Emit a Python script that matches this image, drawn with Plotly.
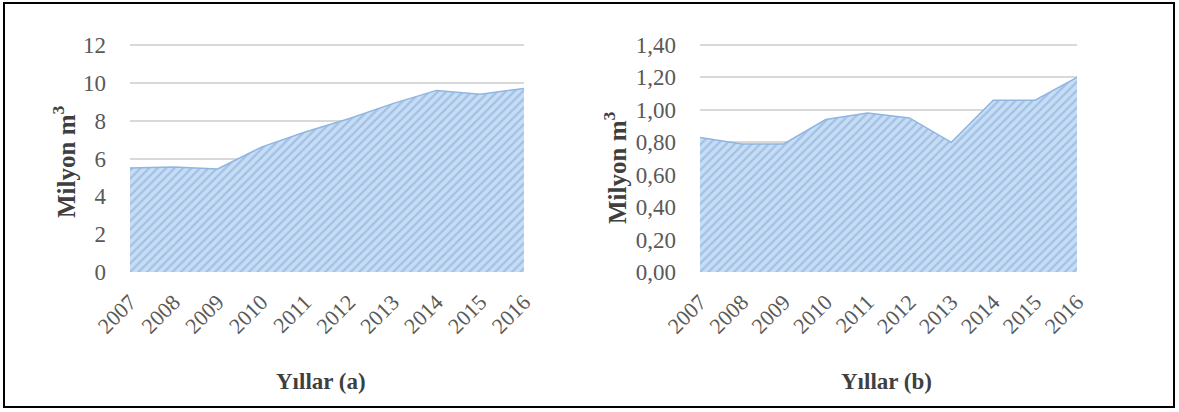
import plotly.graph_objects as go

years = [2007, 2008, 2009, 2010, 2011, 2012, 2013, 2014, 2015, 2016]
values_a = [5.5, 5.55, 5.45, 6.6, 7.4, 8.1, 8.9, 9.6, 9.4, 9.7]
values_b = [0.83, 0.79, 0.79, 0.94, 0.98, 0.95, 0.80, 1.06, 1.06, 1.20]
ticks_a = [0, 2, 4, 6, 8, 10, 12]
ticks_b = [0.0, 0.2, 0.4, 0.6, 0.8, 1.0, 1.2, 1.4]
ticktext_b = ["0,00", "0,20", "0,40", "0,60", "0,80", "1,00", "1,20", "1,40"]
xtitle_a = "Yıllar (a)"
xtitle_b = "Yıllar (b)"
ytitle = "Milyon m<sup>3</sup>"

W, H = 1179, 412
SERIF = "Liberation Serif, Times New Roman, serif"
TICKC = "#595959"
TITLEC = "#3f3f3f"

fill_pattern = dict(shape="/", fgcolor="#78a6da", bgcolor="#c8ddf4", size=6, solidity=0.38)

fig = go.Figure()
fig.add_trace(go.Scatter(x=years, y=values_a, mode="lines", fill="tozeroy",
                         line=dict(color="#8fb5e2", width=1.5),
                         fillcolor="#a8c8ec", fillpattern=fill_pattern,
                         xaxis="x", yaxis="y", showlegend=False, hoverinfo="skip"))
fig.add_trace(go.Scatter(x=years, y=values_b, mode="lines", fill="tozeroy",
                         line=dict(color="#8fb5e2", width=1.5),
                         fillcolor="#a8c8ec", fillpattern=fill_pattern,
                         xaxis="x2", yaxis="y2", showlegend=False, hoverinfo="skip"))

# plot area: value 0 at y=272 px, top tick at y=45 px; extend range a little so top grid shows
pad = 2 / 227.0
ydom = [1 - 272 / H, 1 - (45 - 2) / H]
common_x = dict(tickmode="array", tickvals=years, ticktext=[str(y) for y in years],
                tickangle=-45, tickfont=dict(family=SERIF, size=22, color=TICKC),
                showgrid=False, zeroline=False, showline=False, ticks="",
                range=[2007, 2016], fixedrange=True, automargin=False, ticklabelstandoff=12)
common_y = dict(showgrid=True, gridcolor="#d9d9d9", gridwidth=1.5, zeroline=False,
                showline=False, ticks="", tickfont=dict(family=SERIF, size=23, color=TICKC),
                domain=ydom, fixedrange=True, automargin=False, ticklabelstandoff=23)

ann_common = dict(xref="paper", yref="paper", showarrow=False, xanchor="center", yanchor="middle")

fig.update_layout(
    width=W, height=H,
    margin=dict(l=0, r=0, t=0, b=0, autoexpand=False),
    paper_bgcolor="white", plot_bgcolor="white",
    xaxis=dict(domain=[130 / W, 524 / W], anchor="y", **common_x),
    yaxis=dict(anchor="x", range=[0, 12 * (1 + pad)], tickvals=ticks_a,
               ticktext=[str(t) for t in ticks_a], **common_y),
    xaxis2=dict(domain=[700 / W, 1077 / W], anchor="y2", **common_x),
    yaxis2=dict(anchor="x2", range=[0, 1.4 * (1 + pad)], tickvals=ticks_b, ticktext=ticktext_b,
                **common_y),
    shapes=[dict(type="rect", xref="paper", yref="paper",
                 x0=4 / W, x1=1174 / W, y0=1 - 407 / H, y1=1 - 3 / H,
                 line=dict(color="black", width=2), fillcolor="rgba(0,0,0,0)")],
    annotations=[
        dict(text="<b>" + xtitle_a + "</b>", x=321 / W, y=1 - 381 / H,
             font=dict(family=SERIF, size=23, color=TITLEC), **ann_common),
        dict(text="<b>" + xtitle_b + "</b>", x=886 / W, y=1 - 381 / H,
             font=dict(family=SERIF, size=23, color=TITLEC), **ann_common),
        dict(text="<b>" + ytitle + "</b>", x=64 / W, y=1 - 162 / H, textangle=-90,
             font=dict(family=SERIF, size=25, color=TITLEC), **ann_common),
        dict(text="<b>" + ytitle + "</b>", x=615 / W, y=1 - 168 / H, textangle=-90,
             font=dict(family=SERIF, size=25, color=TITLEC), **ann_common),
    ],
)

fig.write_html("out.html", config={"displayModeBar": False},
               post_script="document.body.style.margin='0px';document.body.style.padding='0px';"
                           "document.body.style.overflow='hidden';")
